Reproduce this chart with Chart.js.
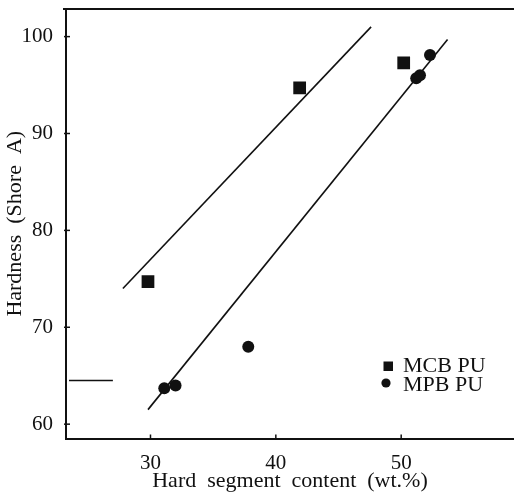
<!DOCTYPE html>
<html>
<head>
<meta charset="utf-8">
<script src="https://cdn.jsdelivr.net/npm/chart.js@4/dist/chart.umd.min.js"></script>
<style>
    html, body { margin: 0; padding: 0; background: #fff; }
    #box { width: 514px; height: 497px; }
</style>
</head>
<body>
<div id="box"><canvas id="hardness"></canvas></div>
<script>
// data
const mcbX = [29.8, 41.9, 50.2];
const mcbY = [74.7, 94.7, 97.3];
const mpbX = [31.1, 32.0, 37.8, 51.2, 51.5, 52.3];
const mpbY = [63.7, 64.0, 68.0, 95.7, 96.0, 98.1];

// straight lines drawn through each series
const fitMcbX = [27.8, 47.6];
const fitMcbY = [74.0, 101.0];
const fitMpbX = [29.8, 53.7];
const fitMpbY = [61.5, 99.7];

// short dash left of the axis near 64.5
const markX = [23.5, 27.0];
const markY = [64.5, 64.5];

const xTicks = [30, 40, 50];
const yTicks = [60, 70, 80, 90, 100];

const legendNames = ['MCB PU', 'MPB PU'];

const ink = '#111';
const serif = "'Liberation Serif', 'Times New Roman', serif";

function toPoints(xs, ys) {
    return xs.map((x, i) => ({ x: x, y: ys[i] }));
}

function lineSet(xs, ys) {
    return {
        data: toPoints(xs, ys),
        showLine: true,
        borderColor: ink,
        borderWidth: 1.6,
        pointRadius: 0,
        fill: false
    };
}

// top frame line, inward ticks and the legend box
const framePlugin = {
    id: 'frame',
    afterDraw(chart) {
        const ctx = chart.ctx;
        const a = chart.chartArea;
        const sx = chart.scales.x;
        const sy = chart.scales.y;

        ctx.save();
        ctx.strokeStyle = ink;
        ctx.lineWidth = 2;
        ctx.beginPath();
        ctx.moveTo(a.left - 3, a.top);
        ctx.lineTo(a.right, a.top);
        ctx.stroke();

        ctx.lineWidth = 1.5;
        xTicks.forEach(v => {
            const px = sx.getPixelForValue(v);
            ctx.beginPath();
            ctx.moveTo(px, a.bottom);
            ctx.lineTo(px, a.bottom - 4);
            ctx.stroke();
        });
        yTicks.forEach(v => {
            const py = sy.getPixelForValue(v);
            ctx.beginPath();
            ctx.moveTo(a.left - 2, py);
            ctx.lineTo(a.left + 4, py);
            ctx.stroke();
        });

        // legend
        ctx.fillStyle = ink;
        ctx.fillRect(383.5, 361.5, 9.5, 9.5);
        ctx.beginPath();
        ctx.arc(386, 383, 4.6, 0, Math.PI * 2);
        ctx.fill();
        ctx.font = '22px ' + serif;
        ctx.textBaseline = 'alphabetic';
        ctx.textAlign = 'left';
        ctx.fillText(legendNames[0], 403, 372);
        ctx.fillText(legendNames[1], 403, 391);
        ctx.restore();
    }
};

const ctx = document.getElementById('hardness').getContext('2d');
const chart = new Chart(ctx, {
    type: 'scatter',
    data: {
        datasets: [
            {
                label: legendNames[0],
                data: toPoints(mcbX, mcbY),
                pointStyle: 'rect',
                pointRadius: 9,
                backgroundColor: ink,
                borderColor: ink,
                borderWidth: 0
            },
            {
                label: legendNames[1],
                data: toPoints(mpbX, mpbY),
                pointStyle: 'circle',
                pointRadius: 6,
                backgroundColor: ink,
                borderColor: ink,
                borderWidth: 0
            },
            lineSet(fitMcbX, fitMcbY),
            lineSet(fitMpbX, fitMpbY),
            lineSet(markX, markY)
        ]
    },
    options: {
        responsive: true,
        maintainAspectRatio: false,
        animation: false,
        layout: { autoPadding: false, padding: { top: 9, right: 0, left: 0, bottom: 0 } },
        plugins: {
            legend: { display: false },
            tooltip: { enabled: false }
        },
        scales: {
            x: {
                type: 'linear',
                min: 23.26,
                max: 59.0,
                afterBuildTicks: s => { s.ticks = xTicks.map(v => ({ value: v })); },
                afterFit: s => {
                    s.height = 58.5;
                    s.paddingLeft = 0;
                    s.paddingRight = 0;
                },
                grid: { display: false },
                border: { display: true, color: ink, width: 2 },
                ticks: {
                    color: ink,
                    padding: 4,
                    font: { family: serif, size: 21 }
                },
                title: {
                    display: true,
                    text: 'Hard  segment  content  (wt.%)',
                    color: ink,
                    font: { family: serif, size: 22 },
                    padding: { top: 0, bottom: 3 }
                }
            },
            y: {
                type: 'linear',
                min: 58.52,
                max: 102.85,
                afterBuildTicks: s => { s.ticks = yTicks.map(v => ({ value: v })); },
                afterFit: s => {
                    s.width = 66;
                    s.paddingTop = 0;
                    s.paddingBottom = 0;
                },
                grid: { display: false },
                border: { display: true, color: ink, width: 2 },
                ticks: {
                    color: ink,
                    padding: 5,
                    font: { family: serif, size: 21 }
                },
                title: {
                    display: true,
                    text: 'Hardness  (Shore  A)',
                    color: ink,
                    font: { family: serif, size: 22 },
                    padding: { top: 2, bottom: 0 }
                }
            }
        }
    },
    plugins: [framePlugin]
});
</script>
</body>
</html>
